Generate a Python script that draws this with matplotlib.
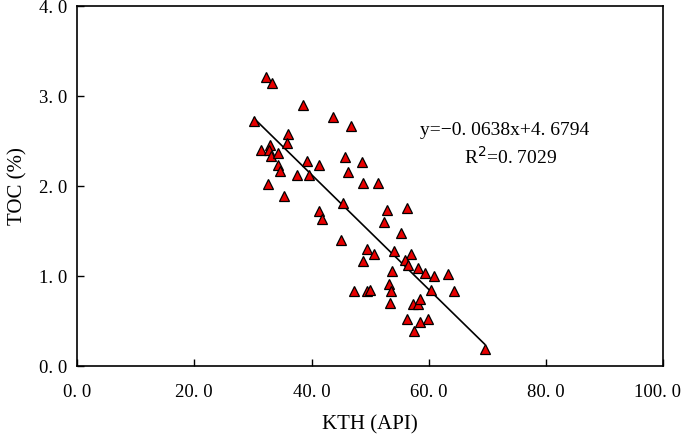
import matplotlib.pyplot as plt
from matplotlib.transforms import ScaledTranslation

plt.rcParams['font.family'] = ['Liberation Serif', 'DejaVu Serif']

# KTH (API) vs TOC (%) samples
kth = [30.2, 32.2, 33.2, 38.6, 43.7, 46.8, 36.0, 35.9, 31.3, 33.0, 32.8, 33.1,
       34.3, 34.2, 34.7, 37.6, 39.2, 39.5, 41.2, 32.5, 35.3, 45.7, 46.2, 48.6,
       48.8, 51.3, 45.4, 41.2, 41.8, 56.2, 52.9, 52.3, 55.2, 45.0, 49.4, 50.6,
       54.1, 57.0, 48.8, 56.0, 56.5, 58.2, 53.8, 59.4, 60.9, 63.3, 53.2, 53.5,
       60.3, 64.3, 47.3, 49.4, 50.0, 53.3, 57.3, 58.2, 58.5, 56.3, 58.5, 59.8,
       57.4, 69.5]
toc = [2.72, 3.21, 3.15, 2.90, 2.77, 2.67, 2.58, 2.48, 2.40, 2.46, 2.40, 2.34,
       2.37, 2.24, 2.17, 2.12, 2.28, 2.12, 2.23, 2.02, 1.89, 2.32, 2.16, 2.27,
       2.03, 2.03, 1.81, 1.72, 1.63, 1.76, 1.73, 1.60, 1.48, 1.40, 1.30, 1.25,
       1.28, 1.25, 1.17, 1.18, 1.12, 1.09, 1.06, 1.04, 1.00, 1.02, 0.91, 0.83,
       0.84, 0.83, 0.83, 0.83, 0.84, 0.70, 0.69, 0.69, 0.74, 0.52, 0.49, 0.52,
       0.39, 0.19]

slope = -0.0638
intercept = 4.6794
fit_x = [min(kth), max(kth)]
fit_y = [slope * x + intercept for x in fit_x]

xticks = [0, 20, 40, 60, 80, 100]
yticks = [0, 1, 2, 3, 4]

fig = plt.figure(figsize=(6.85, 4.4), dpi=100)
ax = fig.add_axes([0.1124, 0.168, 0.856, 0.818])

ax.plot(fit_x, fit_y, color='black', lw=1.2, zorder=2)
ax.plot(kth, toc, linestyle='none', marker='^', markersize=7.8,
        markerfacecolor='#e80000', markeredgecolor='black',
        markeredgewidth=0.9, zorder=3)

ax.set_xlim(0, 100)
ax.set_ylim(0, 4)
ax.set_xticks(xticks)
ax.set_yticks(yticks)
ax.set_xticklabels([f"{v:.1f}".replace('.', '. ') for v in xticks])
ax.set_yticklabels([f"{v:.1f}".replace('.', '. ') for v in yticks])
ax.tick_params(direction='in', length=5, width=1, labelsize=13.5)
ax.tick_params(axis='x', pad=13)
ax.tick_params(axis='y', pad=7)
for s in ax.spines.values():
    s.set_linewidth(1.2)

# nudge the last x label left so it stays inside the picture
last = ax.get_xticklabels()[-1]
last.set_transform(last.get_transform() + ScaledTranslation(-0.06, 0, fig.dpi_scale_trans))

ax.set_xlabel('KTH (API)', fontsize=15, labelpad=10)
ax.set_ylabel('TOC (%)', fontsize=15, labelpad=8)

ax.text(73.0, 2.62, 'y=\u22120. 0638x+4. 6794', fontsize=14,
        ha='center', va='center')
ax.text(74.0, 2.33, 'R$^2$=0. 7029', fontsize=14, ha='center', va='center')

fig.savefig('out.png', dpi=100)
